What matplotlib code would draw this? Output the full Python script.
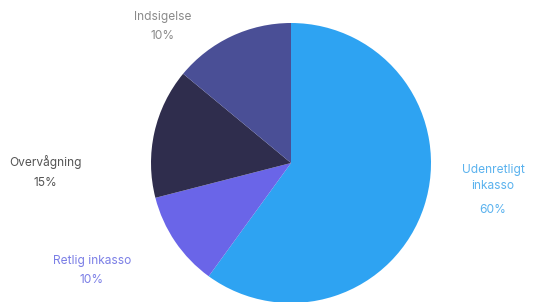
import matplotlib.pyplot as plt

# andele som tegnet i cirklen, og teksterne som de står i figuren
categories = ['Udenretligt\ninkasso', 'Retlig inkasso', 'Overvågning', 'Indsigelse']
shares = [60, 11, 15, 14]
pct_labels = ['60%', '10%', '15%', '10%']
colors = ['#2ea3f2', '#6a65e8', '#2f2d4d', '#4a4f96']

fig = plt.figure(figsize=(5.45, 3.02), dpi=100)
ax = fig.add_axes([0, 0, 1, 1])

ax.pie(shares, colors=colors, startangle=90, counterclock=False,
       center=(291, 139), radius=140, frame=True,
       wedgeprops=dict(linewidth=0))
ax.set_xlim(0, 545)
ax.set_ylim(0, 302)
ax.set_aspect('equal')
ax.axis('off')

# label placering (x, y for navn, y for procent) og farve
pos = [(493, 124, 92), (92, 41, 22), (45, 140, 119), (163, 285, 266)]
txt_colors = ['#5ab2ee', '#7b7fe6', '#555555', '#8a8a8a']
font = 'Inter'
for name, pct, (x, y1, y2), c in zip(categories, pct_labels, pos, txt_colors):
    ax.text(x, y1, name, ha='center', va='center', fontsize=8.6,
            color=c, family=font, linespacing=1.4)
    ax.text(x, y2, pct, ha='center', va='center', fontsize=8.6,
            color=c, family=font)

fig.savefig('out.png', dpi=100)
